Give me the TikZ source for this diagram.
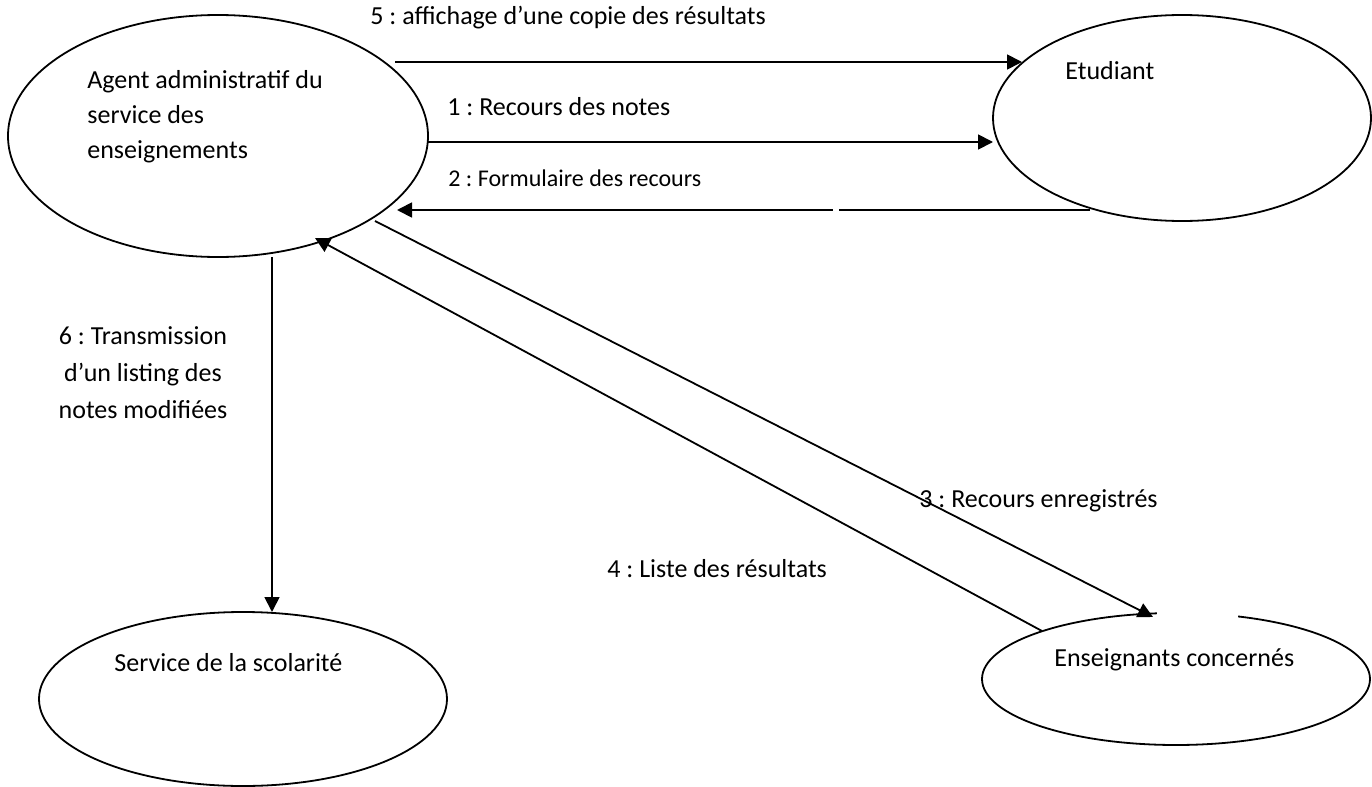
\documentclass[tikz,border=0pt]{standalone}
\usepackage{fontspec}
\setmainfont{Carlito}
\usetikzlibrary{shapes.geometric,arrows.meta}
\frenchspacing

\begin{document}
\begin{tikzpicture}[x=0.5pt,y=-0.5pt,
  actor/.style={draw, ellipse, line width=0.9pt, inner sep=0pt},
  msg/.style={line width=0.9pt, -{Triangle[length=7.5pt,width=7.5pt]}},
  txt/.style={font=\fontsize{13}{17.5}\selectfont, inner sep=0pt, anchor=base west},
  smalltxt/.style={font=\fontsize{12}{16}\selectfont, inner sep=0pt, anchor=base west},
]
\useasboundingbox (0,0) rectangle (1372,787);

% actors
\node[actor, minimum width=210pt, minimum height=121pt] (agent) at (218,136) {};
\node[actor, minimum width=189pt, minimum height=103pt] (etudiant) at (1182,118) {};
\node[actor, minimum width=204pt, minimum height=87pt] (scol) at (243,699) {};
\node[actor, minimum width=194pt, minimum height=66pt] (ens) at (1176,679) {};

% actor names (multi-line nodes sit on the baseline of their last line)
\node[txt, align=left] (agentT) at (87,158) {Agent administratif du\\service des\\enseignements};
\node[txt] (etudiantT) at (1065,79) {Etudiant};
\node[txt] (scolT) at (114,671) {Service de la scolarit\'e};
\node[txt] (ensT) at (1054,666) {Enseignants concern\'es};

% opening in the upper outline of the teachers' ellipse
\fill[white] (1157,600) rectangle (1238,630);

% connector ends
\coordinate (m5s) at (395,62);   \coordinate (m5e) at (1022,62);
\coordinate (m1s) at (428,142);  \coordinate (m1e) at (993,142);
\coordinate (m2s) at (1090,210); \coordinate (m2e) at (397,210);
\coordinate (m3s) at (375,221);  \coordinate (m3e) at (1153,617);
\coordinate (m4s) at (1042,631); \coordinate (m4e) at (315,238);
\coordinate (m6s) at (272,257);  \coordinate (m6e) at (272,612);

% messages
\draw[msg] (m5s) -- (m5e);
\draw[msg] (m1s) -- (m1e);
\draw[msg] (m2s) -- (m2e);
\draw[white, line width=1.5pt] (833,210) -- (839,210);
\draw[msg] (m3s) -- (m3e);
\draw[msg] (m4s) -- (m4e);
\draw[msg] (m6s) -- (m6e);

% message labels
\node[txt] (l5) at (370,25) {5 : affichage d’une copie des r\'esultats};
\node[txt] (l1) at (447,115) {1 : Recours des notes};
\node[smalltxt] (l2) at (448,186) {2 : Formulaire des recours};
\node[txt] (l3) at (919,507) {3 : Recours enregistr\'es};
\node[txt] (l4) at (607,577) {4 : Liste des r\'esultats};
\node[txt, align=center, anchor=base, font=\fontsize{13}{18.5}\selectfont] (l6) at (143,418) {6 : Transmission\\d’un listing des\\notes modifi\'ees};
\end{tikzpicture}
\end{document}
